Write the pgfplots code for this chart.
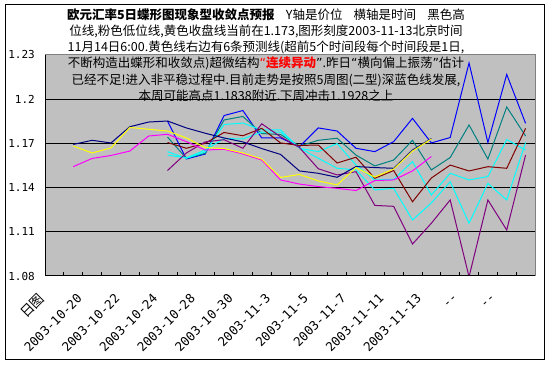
\documentclass[border=0pt]{standalone}
\usepackage{fontspec}
\usepackage{pgfplots}
\pgfplotsset{compat=1.18}
\usepackage{pgfplotstable}
\setmainfont{Noto Sans CJK SC}
\newfontfamily\monofont{DejaVu Sans Mono}
\newfontfamily\qfont{DejaVu Sans}
\definecolor{cnavy}{RGB}{0,0,128}
\definecolor{cblue}{RGB}{0,0,255}
\definecolor{cteal}{RGB}{0,128,128}
\definecolor{ccyan}{RGB}{0,255,255}
\definecolor{cmaroon}{RGB}{128,0,0}
\definecolor{cpurple}{RGB}{128,0,128}
\definecolor{cyellow}{RGB}{255,255,0}
\definecolor{cpink}{RGB}{255,0,255}
\definecolor{plotgray}{RGB}{192,192,192}
\definecolor{boxgray}{RGB}{128,128,128}
\definecolor{cred}{RGB}{255,0,0}

\pgfplotstableread{
x high low close
1 1.1693 1.1542 1.1682
2 1.1721 1.1598 1.1635
3 1.1703 1.1618 1.1669
4 1.1813 1.1648 1.1808
5 1.1845 1.1750 1.1796
6 1.1852 1.1762 1.1784
7 1.1805 1.1712 1.1737
8 1.1769 1.1655 1.1672
9 1.1737 1.1660 1.1665
10 1.1710 1.1628 1.1635
11 1.1665 1.1587 1.1594
12 1.1625 1.1452 1.1469
13 1.1513 1.1424 1.1489
14 1.1497 1.1407 1.1445
15 1.1470 1.1395 1.1418
16 1.1543 1.1380 1.1536
17 1.1536 1.1448 1.1472
18 1.1531 1.1452 1.1526
19 1.1655 1.1513 1.1648
20 1.1733 1.1611 1.1730
}\maintab

\pgfplotstableread{
x blue teal cyanA cyanB maroon purple
6 1.1852 1.1743 1.1644 1.1621 1.1706 1.1516
7 1.1594 1.1599 1.1599 1.1601 1.1667 1.1635
8 1.1628 1.1633 1.1642 1.1655 1.1701 1.1710
9 1.1889 1.1859 1.1828 1.1733 1.1774 1.1725
10 1.1923 1.1883 1.1838 1.1730 1.1752 1.1667
11 1.1737 1.1767 1.1791 1.1777 1.1802 1.1833
12 1.1737 1.1760 1.1791 1.1777 1.1703 1.1745
13 1.1678 1.1682 1.1667 1.1669 1.1686 1.1672
14 1.1805 1.1721 1.1644 1.1599 1.1689 1.1528
15 1.1784 1.1735 1.1699 1.1531 1.1567 1.1486
16 1.1667 1.1621 1.1553 1.1520 1.1606 1.1508
17 1.1644 1.1547 1.1452 1.1384 1.1463 1.1279
18 1.1712 1.1587 1.1456 1.1395 1.1516 1.1273
19 1.1870 1.1721 1.1576 1.1180 1.1304 1.1017
20 1.1703 1.1520 1.1350 1.1296 1.1465 1.1158
21 1.1740 1.1604 1.1497 1.1440 1.1553 1.1316
22 1.2246 1.1825 1.1452 1.1158 1.1513 1.0795
23 1.1706 1.1594 1.1475 1.1429 1.1542 1.1316
24 1.2168 1.1947 1.1726 1.1316 1.1531 1.1112
25 1.1836 1.1750 1.1655 1.1707 1.1802 1.1621
}\fctab

\begin{document}
\begin{tikzpicture}
\path[use as bounding box] (0pt,0pt) rectangle (551pt,366pt);
\draw[black, line width=1pt] (5.5pt,6.5pt) rectangle (544.5pt,361pt);
\begin{axis}[
  at={(45pt,90pt)}, anchor=south west,
  scale only axis, width=490pt, height=221pt,
  xmin=-0.5, xmax=25.5, ymin=1.08, ymax=1.23,
  axis background/.style={fill=plotgray},
  axis line style={draw=boxgray, line width=1pt},
  xtick pos=bottom, ytick pos=left,
  ytick={1.08,1.11,1.14,1.17,1.2,1.23},
  yticklabels={1.08,1.11,1.14,1.17,1.2,1.23},
  yticklabel style={font=\monofont\fontsize{11}{11}\selectfont, anchor=east, inner sep=0pt, xshift=-10pt},
  ytick style={draw=none},
  extra y ticks={1.11,1.14,1.17,1.2},
  extra y tick labels={},
  extra y tick style={grid=major, major grid style={black, line width=1pt}},
  xtick={0.5,1.5,...,24.5},
  xticklabels={},
  tick align=inside,
  major tick length=4pt,
  xtick style={black, line width=0.8pt},
  extra x ticks={0,2,...,24},
  extra x tick labels={{\rmfamily\fontsize{13.5}{13.5}\selectfont 日图},2003-10-20,2003-10-22,2003-10-24,2003-10-28,2003-10-30,2003-11-3,2003-11-5,2003-11-7,2003-11-11,2003-11-13,-{}-,-{}-},
  extra x tick style={major tick length=0pt, xticklabel style={font=\monofont\fontsize{12.5}{12.5}\selectfont, rotate=45, anchor=east, inner sep=0pt, xshift=-23pt, yshift=-5.5pt}},
  every axis plot/.append style={line width=1pt, mark=none},
]
\addplot[cblue] table[x=x,y=blue] {\fctab};
\addplot[cteal] table[x=x,y=teal] {\fctab};
\addplot[ccyan] table[x=x,y=cyanA] {\fctab};
\addplot[ccyan] table[x=x,y=cyanB] {\fctab};
\addplot[cmaroon] table[x=x,y=maroon] {\fctab};
\addplot[cpurple] table[x=x,y=purple] {\fctab};
\addplot[cpink] table[x=x,y=low] {\maintab};
\addplot[cnavy] table[x=x,y=high] {\maintab};
\addplot[cyellow] table[x=x,y=close] {\maintab};
\draw[black, line width=1pt] (rel axis cs:0,1) -- (rel axis cs:0,0) -- (rel axis cs:1,0);
\end{axis}
\begin{scope}[every node/.style={inner sep=0pt, font=\fontsize{12.5}{12.5}\selectfont}]
\node at (266pt,351pt) {\textbf{欧元汇率5日蝶形图现象型收敛点预报}\hspace{0.9em}Y轴是价位\hspace{0.9em}横轴是时间\hspace{0.9em}黑色高};
\node at (266pt,334.5pt) {位线,粉色低位线,黄色收盘线当前在1.173,图形刻度2003-11-13北京时间};
\node at (266pt,318.5pt) {11月14日6:00.黄色线右边有6条预测线(超前5个时间段每个时间段是1日,};
\node at (266pt,302.5pt) {不断构造出蝶形和收敛点)超微结构{\color{cred}{\qfont “}\textbf{连续异动}}{\qfont ”}.昨日{\qfont “}横向偏上振荡{\qfont ”}估计};
\node at (266pt,286pt) {已经不足!进入非平稳过程中.目前走势是按照5周图(二型)深蓝色线发展,};
\node at (266pt,270.5pt) {本周可能高点1.1838附近.下周冲击1.1928之上};
\end{scope}
\end{tikzpicture}
\end{document}
